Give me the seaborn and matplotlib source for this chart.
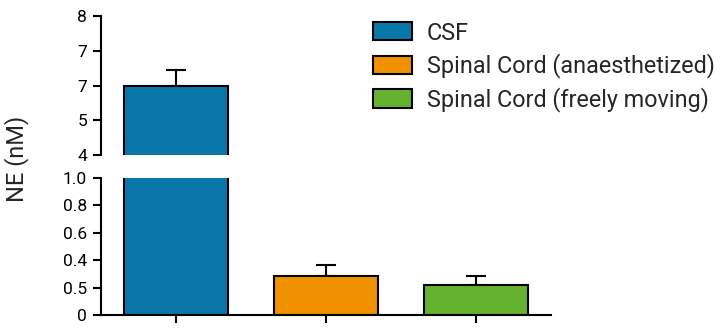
import matplotlib
matplotlib.use("Agg")
import matplotlib.pyplot as plt
import seaborn as sns
import pandas as pd
from matplotlib.patches import Patch

categories = ["CSF", "Spinal Cord (anaesthetized)", "Spinal Cord (freely moving)"]
means = [6.0, 0.285, 0.22]
errors = [0.45, 0.08, 0.065]
colors = ["#0a77ab", "#f29100", "#65b22e"]
top_ticks = [4, 5, 6, 7, 8]
top_ticklabels = ["4", "5", "7", "7", "8"]
bottom_ticks = [0, 0.2, 0.4, 0.6, 0.8, 1.0]
bottom_ticklabels = ["0", "0.5", "0.4", "0.6", "0.8", "1.0"]

df = pd.DataFrame({"group": categories, "value": means})

sns.set_style("white")
plt.rcParams["font.family"] = ["Roboto", "DejaVu Sans"]

W, H = 720, 332
fig = plt.figure(figsize=(W / 100, H / 100), dpi=100)

def px_axes(x0, y0, x1, y1):
    return fig.add_axes([x0 / W, 1 - y1 / H, (x1 - x0) / W, (y1 - y0) / H])

ax_top = px_axes(101, 16, 551, 155)
ax_bot = px_axes(101, 178, 551, 315)

lw = 1.5
for ax in (ax_top, ax_bot):
    sns.barplot(data=df, x="group", y="value", hue="group", palette=colors,
                order=categories, hue_order=categories, width=0.69, saturation=1,
                edgecolor="black", linewidth=lw, errorbar=None, legend=False,
                ax=ax, zorder=2)
    xs = range(len(categories))
    ax.errorbar(xs, means, yerr=[[0] * len(means), errors], fmt="none",
                ecolor="black", elinewidth=lw, capsize=7.5, capthick=lw, zorder=1)
    ax.set_xlim(-0.5, 2.5)
    ax.set_xlabel("")
    ax.set_ylabel("")
    for s in ("top", "right"):
        ax.spines[s].set_visible(False)
    ax.spines["left"].set_linewidth(lw)
    ax.spines["bottom"].set_linewidth(lw)
    ax.spines["left"].set_color("black")
    ax.spines["bottom"].set_color("black")
    ax.tick_params(axis="y", left=True, length=6, width=lw, labelsize=12.5, pad=4, colors="black")

ax_top.set_ylim(4, 8)
ax_top.set_yticks(top_ticks)
ax_top.set_yticklabels(top_ticklabels)
ax_top.spines["bottom"].set_visible(False)
ax_top.tick_params(axis="x", bottom=False, labelbottom=False)

ax_bot.set_ylim(0, 1.0)
ax_bot.set_yticks(bottom_ticks)
ax_bot.set_yticklabels(bottom_ticklabels)
ax_bot.tick_params(axis="x", bottom=True, length=6, width=lw, labelbottom=False, colors="black")

fig.text(17 / W, 1 - 159 / H, "NE (nM)", rotation=90, ha="center", va="center", fontsize=17)

handles = [Patch(facecolor=c, edgecolor="black", linewidth=lw) for c in colors]
fig.legend(handles, categories, loc="upper left", bbox_to_anchor=(373 / W, 1 - 21.5 / H),
           frameon=False, fontsize=16.8, handlelength=1.67, handleheight=0.82,
           labelspacing=0.38, handletextpad=0.64, borderaxespad=0, borderpad=0)

fig.savefig("out.png", dpi=100)
